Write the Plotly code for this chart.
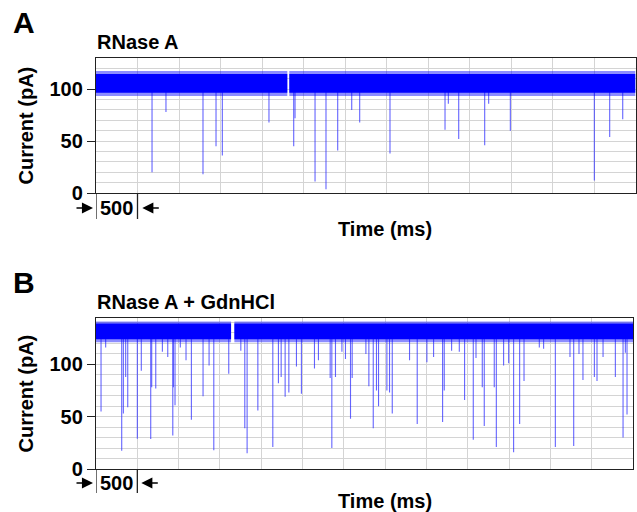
import plotly.graph_objects as go

W, H = 637, 512

# ---------------- data ----------------
# Panel A: RNase A
a_band_segments = [(0, 2305), (2329, 6500)]      # ms, open-pore segments
a_band_core = (96.5, 114.5)                      # pA dense band
a_band_outer = (93.5, 117.5)                     # pA fuzzy edge
a_spike_times = [675, 843, 1289, 1446, 1522, 2084, 2382, 2398, 2639, 2771, 2912,
                 3081, 3177, 3542, 4205, 4245, 4370, 4683, 4731, 4992, 6004, 6189, 6346]
a_spike_depths = [20, 78, 18, 45, 36, 68, 45, 72, 11, 3.5, 41,
                  80, 68, 38, 61, 86, 52, 46, 86, 60, 12, 54, 71]

# Panel B: RNase A + GdnHCl
b_band_segments = [(0, 1634), (1674, 6500)]
b_band_core = (124.0, 139.0)
b_band_outer = (121.0, 141.0)
b_spike_times = [61, 117, 311, 331, 359, 384, 500, 548, 662, 674, 723, 803, 868, 929,
                 936, 956, 1020, 1089, 1154, 1295, 1368, 1425, 1606, 1752, 1800, 1828,
                 1958, 2139, 2207, 2240, 2288, 2333, 2425, 2485, 2643, 2691, 2833, 2853,
                 2897, 2975, 3018, 3079, 3099, 3265, 3301, 3354, 3393, 3418, 3519, 3551,
                 3584, 3793, 3886, 4003, 4084, 4193, 4213, 4302, 4395, 4459, 4564, 4597,
                 4673, 4697, 4818, 4843, 4931, 4992, 5052, 5125, 5178, 5363, 5415, 5557,
                 5734, 5779, 5843, 5891, 6029, 6061, 6134, 6283, 6376, 6404, 6424]
b_spike_depths = [55, 116, 17.5, 53, 88, 59, 29, 94, 28.6, 78, 77, 112, 107, 32,
                  78, 61, 116, 104, 47, 69.5, 99, 18, 91, 113, 39, 15,
                  56, 21, 82, 88, 69, 73, 98, 72, 96, 104, 87, 20,
                  88, 112, 105, 48, 87, 110, 79, 39, 75, 60, 75, 73,
                  53, 104, 43, 102, 107, 45, 75, 113, 112, 66, 28, 106,
                  78, 41, 78, 21, 99, 101, 16, 43, 84, 116, 115, 21,
                  107, 22, 110, 85, 88, 84, 107, 88, 30, 111, 52]

x_range = (0, 6500)
a_y_range = (0, 130)
b_y_range = (0, 144)
y_tick_vals = [0, 50, 100]
scale_bar_ms = 500

FONT = "Liberation Sans, Arial, sans-serif"
BLUE = "#0000ff"
SPIKE = "rgba(40,40,255,0.72)"


def band_poly(segments, lo, hi):
    xs, ys = [], []
    for s, e in segments:
        xs += [s, e, e, s, s, None]
        ys += [lo, lo, hi, hi, lo, None]
    return xs, ys


def spikes(times, depths, base):
    xs, ys = [], []
    for t, d in zip(times, depths):
        xs += [t, t, None]
        ys += [base, d, None]
    return xs, ys


fig = go.Figure()

for (segs, core, outer, st, sd, xa, ya) in [
        (a_band_segments, a_band_core, a_band_outer, a_spike_times, a_spike_depths, "x", "y"),
        (b_band_segments, b_band_core, b_band_outer, b_spike_times, b_spike_depths, "x2", "y2")]:
    base = (core[0] + core[1]) / 2
    sx, sy = spikes(st, sd, base)
    fig.add_trace(go.Scatter(x=sx, y=sy, mode="lines", line=dict(color=SPIKE, width=1.1),
                             xaxis=xa, yaxis=ya, hoverinfo="skip", showlegend=False))
    ox, oy = band_poly(segs, *outer)
    fig.add_trace(go.Scatter(x=ox, y=oy, mode="lines", fill="toself",
                             fillcolor="rgba(0,0,255,0.45)", line=dict(width=0),
                             xaxis=xa, yaxis=ya, hoverinfo="skip", showlegend=False))
    cx, cy = band_poly(segs, *core)
    fig.add_trace(go.Scatter(x=cx, y=cy, mode="lines", fill="toself",
                             fillcolor=BLUE, line=dict(width=0),
                             xaxis=xa, yaxis=ya, hoverinfo="skip", showlegend=False))


def px_x(p):
    return p / W


def px_y(p):
    return 1 - p / H


def xaxis(dom):
    return dict(domain=dom, range=list(x_range), dtick=scale_bar_ms, tick0=0,
                showgrid=True, gridcolor="#d4d4d4", gridwidth=1,
                showticklabels=False, ticks="", zeroline=False, automargin=False,
                showline=True, mirror=True, linecolor="#222", linewidth=1.3)


def yaxis(dom, rng, anchor):
    return dict(domain=dom, range=list(rng), tickvals=y_tick_vals, automargin=False,
                showgrid=True, gridcolor="#d4d4d4", gridwidth=1,
                minor=dict(dtick=10, tick0=0, showgrid=True, gridcolor="#d4d4d4", ticks=""),
                ticks="outside", ticklen=8, tickwidth=1.3, tickcolor="#222",
                tickfont=dict(family=FONT, size=20, color="black", weight="bold"),
                zeroline=False, showline=True, mirror=True, linecolor="#222",
                linewidth=1.3, anchor=anchor)


fig.update_layout(
    width=W, height=H, margin=dict(l=0, r=0, t=0, b=0, autoexpand=False),
    paper_bgcolor="white", plot_bgcolor="white", showlegend=False,
    xaxis=dict(xaxis([px_x(96), px_x(635.5)]), anchor="y"),
    yaxis=yaxis([px_y(193), px_y(58)], a_y_range, "x"),
    xaxis2=dict(xaxis([px_x(96), px_x(633.3)]), anchor="y2"),
    yaxis2=yaxis([px_y(469), px_y(318.3)], b_y_range, "x2"),
)

anns = []
shapes = []


def txt(text, x, y, size, xanchor="center", angle=0):
    anns.append(dict(text=text, x=px_x(x), y=px_y(y), xref="paper", yref="paper",
                     xanchor=xanchor, yanchor="middle", showarrow=False, textangle=angle,
                     font=dict(family=FONT, size=size, color="black", weight="bold")))


for (label, lab_y, title, title_y, time_y, cur_y, plot_bottom, bar_bottom, xr, bar_right) in [
        ("A", 22.5, "RNase A", 41.7, 228.5, 125.5, 193, 219, "x", 138.3),
        ("B", 282.5, "RNase A + GdnHCl", 301.7, 501, 393.5, 469, 493, "x2", 137.3)]:
    txt(label, 24, lab_y, 30)
    txt(title, 95, title_y, 20, xanchor="left")
    txt("Time (ms)", 385, time_y, 20)
    txt("Current (pA)", 25, cur_y, 20, angle=-90)
    for t in (0, scale_bar_ms):
        shapes.append(dict(type="line", xref=xr, yref="paper", x0=t, x1=t,
                           y0=px_y(plot_bottom), y1=px_y(bar_bottom),
                           line=dict(color="#222", width=1.3)))
    mid = (plot_bottom + bar_bottom) / 2 + 2
    anns.append(dict(text="500", x=scale_bar_ms / 2, y=px_y(mid), xref=xr, yref="paper",
                     showarrow=False, xanchor="center", yanchor="middle",
                     font=dict(family=FONT, size=20, color="black", weight="bold")))
    # arrows
    anns.append(dict(text="", x=px_x(93), y=px_y(mid), xref="paper", yref="paper",
                     ax=-18, ay=0, showarrow=True, arrowhead=2, arrowsize=1.3,
                     arrowwidth=1.7, arrowcolor="black"))
    anns.append(dict(text="", x=px_x(bar_right + 4), y=px_y(mid), xref="paper", yref="paper",
                     ax=18, ay=0, showarrow=True, arrowhead=2, arrowsize=1.3,
                     arrowwidth=1.7, arrowcolor="black"))

fig.update_layout(annotations=anns, shapes=shapes)
fig.write_html("out.html", config={"displayModeBar": False},
               post_script="document.body.style.margin='0';document.body.style.overflow='hidden';")
